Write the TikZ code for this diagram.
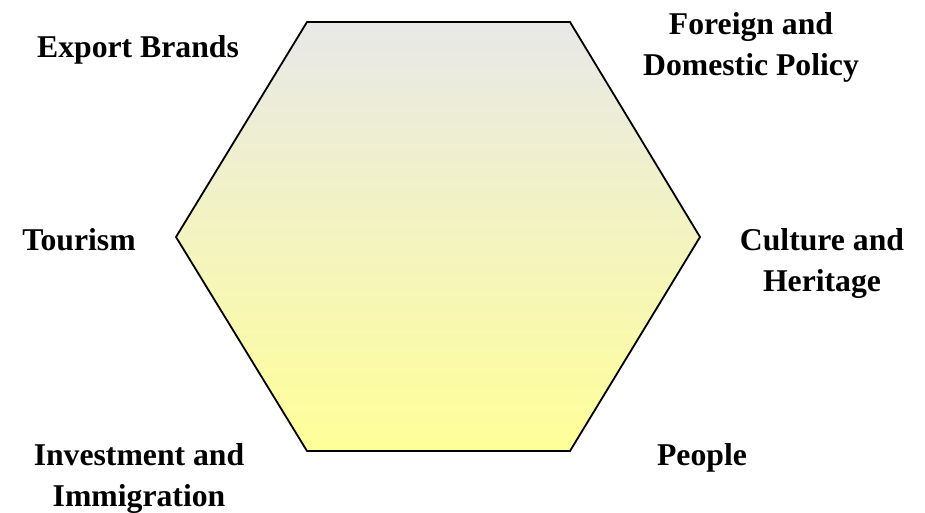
\documentclass[tikz,border=0pt]{standalone}
\usepackage{fontspec}
\setmainfont{Liberation Serif}
\definecolor{hextop}{RGB}{232,232,232}
\definecolor{hexbot}{RGB}{255,255,153}
\begin{document}
\begin{tikzpicture}[x=1pt,y=-1pt,
  lbl/.style={font=\fontsize{31.7}{41}\selectfont\bfseries, align=center, anchor=base, inner sep=0pt}]
\useasboundingbox (0,0) rectangle (925,513);
\coordinate (tl) at (307,22);
\coordinate (tr) at (570,22);
\coordinate (r) at (700,237);
\coordinate (br) at (570,451);
\coordinate (bl) at (307,451);
\coordinate (l) at (176,237);
\draw[line width=1.8pt, line join=miter, top color=hextop, bottom color=hexbot]
  (tl) -- (tr) -- (r) -- (br) -- (bl) -- (l) -- cycle;
\node[lbl] (export) at (138,58) {Export Brands};
\node[lbl] (foreign) at (751,76) {Foreign and\\Domestic Policy};
\node[lbl] (tourism) at (79,250) {Tourism};
\node[lbl] (culture) at (822,291) {Culture and\\Heritage};
\node[lbl] (invest) at (139,506) {Investment and\\Immigration};
\node[lbl] (people) at (702,465) {People};
\end{tikzpicture}
\end{document}
